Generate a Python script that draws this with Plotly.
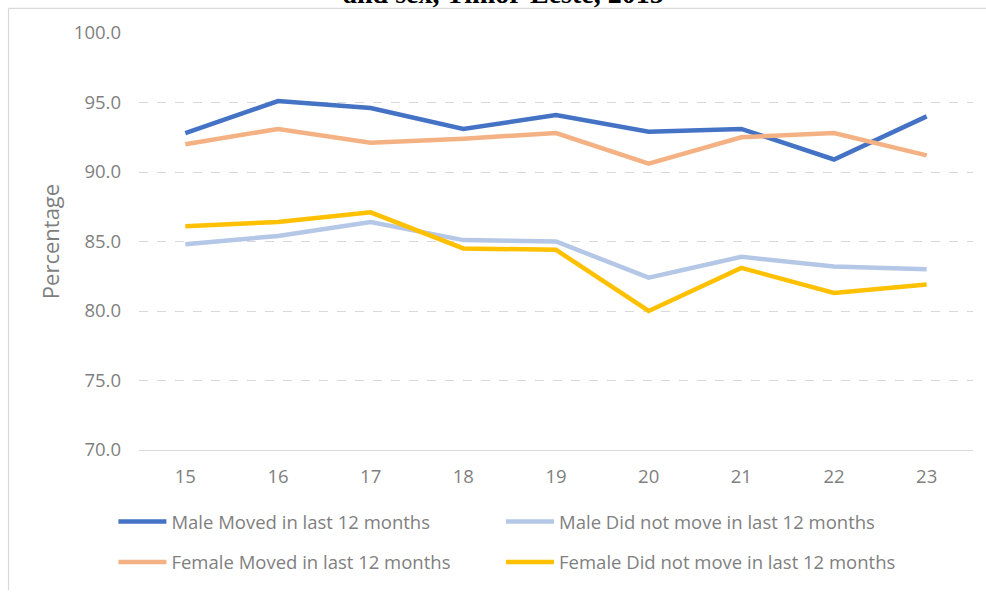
import plotly.graph_objects as go

# Age in single years
ages = [15, 16, 17, 18, 19, 20, 21, 22, 23]

# Percentages by sex and migration status
male_moved = [92.8, 95.1, 94.6, 93.1, 94.1, 92.9, 93.1, 90.9, 94.0]
male_not_moved = [84.8, 85.4, 86.4, 85.1, 85.0, 82.4, 83.9, 83.2, 83.0]
female_moved = [92.0, 93.1, 92.1, 92.4, 92.8, 90.6, 92.5, 92.8, 91.2]
female_not_moved = [86.1, 86.4, 87.1, 84.5, 84.4, 80.0, 83.1, 81.3, 81.9]

series = [
    ("Male Moved in last 12 months", male_moved, "#4472C4", "legend"),
    ("Male Did not move in last 12 months", male_not_moved, "#B4C7E7", "legend2"),
    ("Female Moved in last 12 months", female_moved, "#F4B183", "legend3"),
    ("Female Did not move in last 12 months", female_not_moved, "#FFC000", "legend4"),
]

FONT = "'Open Sans', Lato, sans-serif"
GREY = "#7F7F7F"
GRID = "#D9D9D9"

fig = go.Figure()
for name, vals, color, leg in series:
    fig.add_trace(go.Scatter(
        x=ages, y=vals, name=name, mode="lines",
        line=dict(color=color, width=4.5),
        legend=leg,
    ))

W, H = 986, 593
L, R, T, B = 138.6, 12.6, 33, 137
pw, ph = W - L - R, H - T - B


def px_x(x):
    return (x - L) / pw


def px_y(y):
    return (H - B - y) / ph


def legend_at(x_px, y_px):
    return dict(
        x=px_x(x_px), y=px_y(y_px),
        orientation="h", xanchor="left", yanchor="middle",
        font=dict(family=FONT, size=18.5, color=GREY),
        bgcolor="rgba(0,0,0,0)", itemwidth=48,
    )


fig.update_layout(
    width=W, height=H,
    margin=dict(l=L, r=R, t=T, b=B),
    paper_bgcolor="white", plot_bgcolor="white",
    font=dict(family=FONT, color=GREY),
    showlegend=True,
    legend=legend_at(113, 529),
    legend2=legend_at(501, 529),
    legend3=legend_at(113, 570),
    legend4=legend_at(501, 570),
    xaxis=dict(
        type="category", range=[-0.5, 8.5],
        tickvals=ages, ticktext=[str(a) for a in ages],
        showgrid=False, showline=True, linecolor=GRID, linewidth=1,
        ticks="", tickfont=dict(family=FONT, size=18.5, color=GREY),
        ticklabelstandoff=10,
    ),
    yaxis=dict(
        range=[70, 100], dtick=5, tickformat=".1f",
        showgrid=True, gridcolor=GRID, griddash="dash", gridwidth=1,
        zeroline=False, showline=False, ticks="",
        tickfont=dict(family=FONT, size=18.5, color=GREY),
        ticklabelstandoff=17,
        title=dict(text="Percentage", font=dict(family=FONT, size=22, color=GREY), standoff=8),
    ),
    shapes=[
        dict(type="line", xref="paper", yref="paper",
             x0=px_x(8), x1=px_x(W + 5), y0=px_y(8), y1=px_y(8),
             line=dict(color=GRID, width=1.2)),
        dict(type="line", xref="paper", yref="paper",
             x0=px_x(8), x1=px_x(8), y0=px_y(8), y1=px_y(H + 5),
             line=dict(color=GRID, width=1.2)),
    ],
    annotations=[
        dict(text="<b>and sex, Timor-Leste, 2015</b>", xref="paper", yref="paper",
             x=px_x(503), y=px_y(11), xanchor="center", yanchor="bottom",
             showarrow=False,
             font=dict(family="'Liberation Serif', 'Times New Roman', serif", size=28, color="#000000")),
    ],
)

fig.write_html("out.html")
